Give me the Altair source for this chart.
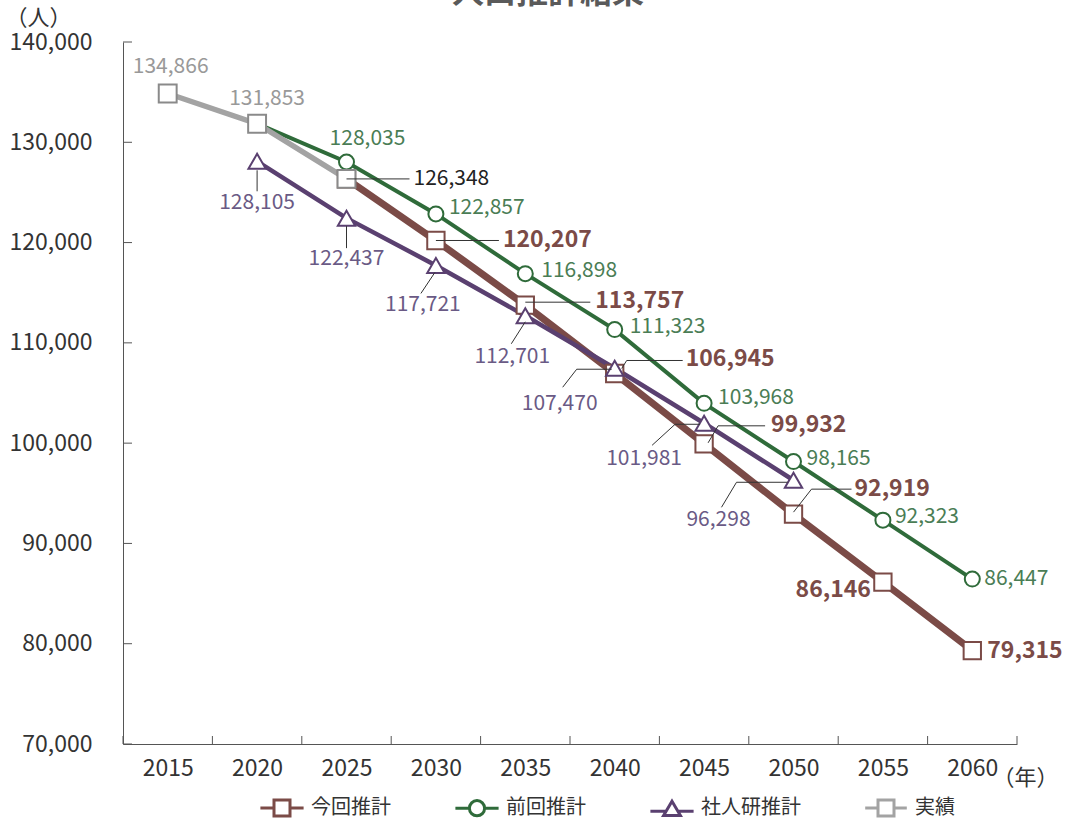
import altair as alt
import pandas as pd

# ---------------- data ----------------
years = [2015, 2020, 2025, 2030, 2035, 2040, 2045, 2050, 2055, 2060]
series_names = ["今回推計", "前回推計", "社人研推計", "実績"]

actual_years = [2015, 2020, 2025]
actual_vals = [134866, 131853, 126348]

current_years = [2025, 2030, 2035, 2040, 2045, 2050, 2055, 2060]
current_vals = [126348, 120207, 113757, 106945, 99932, 92919, 86146, 79315]

previous_years = [2020, 2025, 2030, 2035, 2040, 2045, 2050, 2055, 2060]
previous_vals = [131853, 128035, 122857, 116898, 111323, 103968, 98165, 92323, 86447]

ipss_years = [2020, 2025, 2030, 2035, 2040, 2045, 2050]
ipss_vals = [128105, 122437, 117721, 112701, 107470, 101981, 96298]

y_ticks = [70000, 80000, 90000, 100000, 110000, 120000, 130000, 140000]
title_text = "人口推計結果"

series_data = {
    "今回推計": (current_years, current_vals),
    "前回推計": (previous_years, previous_vals),
    "社人研推計": (ipss_years, ipss_vals),
    "実績": (actual_years, actual_vals),
}

# ---------------- styling ----------------
W, H = 894, 702
X_MIN, X_MAX = years[0] - 2.5, years[-1] + 2.5
Y_MIN, Y_MAX = y_ticks[0], y_ticks[-1]
PX_X = (X_MAX - X_MIN) / W     # years per pixel
PX_Y = (Y_MAX - Y_MIN) / H     # persons per pixel

colors = {"今回推計": "#7b4b47", "前回推計": "#2f6b3a", "社人研推計": "#5a4070", "実績": "#a3a3a3"}
marker_stroke = {"今回推計": "#7b4b47", "前回推計": "#2f6b3a", "社人研推計": "#5a4070", "実績": "#8a8a8a"}
line_width = {"今回推計": 7, "前回推計": 4, "社人研推計": 4.5, "実績": 5.5}
marker_shape = {"今回推計": "square", "前回推計": "circle", "社人研推計": "triangle-up", "実績": "square"}
marker_size = {"今回推計": 300, "前回推計": 225, "社人研推計": 300, "実績": 320}

label_styles = {
    "gray": ("#999999", 21, "normal"),
    "black": ("#222222", 21, "normal"),
    "green": ("#4a7d55", 21, "normal"),
    "purple": ("#6a5a85", 21, "normal"),
    "brown": ("#7b4b47", 23, "bold"),
}

# label placements: series, year, dx, dy (pixels from point), align, style
label_place = [
    ("実績", 2015, 3, -26, "center", "gray"),
    ("実績", 2020, 10, -25, "center", "gray"),
    ("実績", 2025, 67, 0, "left", "black"),
    ("前回推計", 2025, 21, -23, "center", "green"),
    ("前回推計", 2030, 13, -6, "left", "green"),
    ("前回推計", 2035, 16, -3, "left", "green"),
    ("前回推計", 2040, 15, -3, "left", "green"),
    ("前回推計", 2045, 14, -5, "left", "green"),
    ("前回推計", 2050, 13, -3, "left", "green"),
    ("前回推計", 2055, 12, -3, "left", "green"),
    ("前回推計", 2060, 12, 0, "left", "green"),
    ("今回推計", 2030, 67, 0, "left", "brown"),
    ("今回推計", 2035, 70, -4, "left", "brown"),
    ("今回推計", 2040, 71, -14, "left", "brown"),
    ("今回推計", 2045, 67, -19, "left", "brown"),
    ("今回推計", 2050, 61, -25, "left", "brown"),
    ("今回推計", 2055, -12, 8, "right", "brown"),
    ("今回推計", 2060, 15, 0, "left", "brown"),
    ("社人研推計", 2020, 0, 42, "center", "purple"),
    ("社人研推計", 2025, 0, 41, "center", "purple"),
    ("社人研推計", 2030, -13, 40, "center", "purple"),
    ("社人研推計", 2035, -13, 41, "center", "purple"),
    ("社人研推計", 2040, -55, 36, "center", "purple"),
    ("社人研推計", 2045, -60, 36, "center", "purple"),
    ("社人研推計", 2050, -75, 40, "center", "purple"),
]

# leader lines: series, year, vertices as pixel offsets from the point
leaders = [
    ("実績", 2025, [(0, 0), (63, 0)]),
    ("今回推計", 2030, [(0, 0), (63, 0)]),
    ("今回推計", 2035, [(0, -3), (65, -3)]),
    ("今回推計", 2040, [(7, -5), (12, -13), (68, -13)]),
    ("今回推計", 2045, [(4, -1), (14, -18), (61, -18)]),
    ("今回推計", 2050, [(0, -2), (18, -25), (58, -25)]),
    ("社人研推計", 2020, [(0, 9), (0, 30)]),
    ("社人研推計", 2025, [(0, 8), (0, 30)]),
    ("社人研推計", 2030, [(-1, 7), (-15, 28)]),
    ("社人研推計", 2035, [(0, 6), (-14, 28)]),
    ("社人研推計", 2040, [(-3, 1), (-38, 1), (-52, 19)]),
    ("社人研推計", 2045, [(-4, 1), (-29, 1), (-52, 22)]),
    ("社人研推計", 2050, [(-6, 2), (-57, 2), (-72, 27)]),
]

legend_paths = [
    "M-2.7,0H-1M1,0H2.7M-1,-1H1V1H-1Z",
    "M-2.7,0H-0.95M0.95,0H2.7M-0.95,0A0.95,0.95 0 1,1 0.95,0A0.95,0.95 0 1,1 -0.95,0Z",
    "M-2.7,0.35H-0.73M0.73,0.35H2.7M0,-0.9L1.05,0.9H-1.05Z",
    "M-2.6,0H-1M1,0H2.6M-1,-1H1V1H-1Z",
]


def value_of(series, year):
    ys, vs = series_data[series]
    return vs[ys.index(year)]


# ---------------- scales / axes ----------------
xs = alt.Scale(domain=[X_MIN, X_MAX], nice=False, zero=False)
ys_ = alt.Scale(domain=[Y_MIN, Y_MAX], nice=False, zero=False)

x_axis = alt.Axis(values=years, format="d", labelFontSize=23, labelColor="#333333",
                  labelPadding=13, ticks=False, tickSize=0, grid=False, domainColor="#555555",
                  labelFlush=False, labelOverlap=False,
                  title="（年）", titleAngle=0, titleX=902, titleY=33, titleAlign="center",
                  titleBaseline="middle", titleFontSize=22, titleFontWeight="normal",
                  titleColor="#333333")
y_axis = alt.Axis(values=y_ticks, format=",d", labelFontSize=23, labelColor="#333333",
                  labelPadding=31, ticks=False, tickSize=0, grid=False, domainColor="#555555",
                  labelOverlap=False,
                  title="（人）", titleAngle=0, titleX=-85, titleY=-25, titleAlign="center",
                  titleBaseline="middle", titleFontSize=22, titleFontWeight="normal",
                  titleColor="#333333")

X = alt.X("year:Q", scale=xs, axis=x_axis)
Y = alt.Y("value:Q", scale=ys_, axis=y_axis)
XL = alt.X("lx:Q", scale=xs, axis=x_axis)
YL = alt.Y("ly:Q", scale=ys_, axis=y_axis)

layers = []

# tick marks (inward)
bounds = [y - 2.5 for y in years] + [years[-1] + 2.5]
layers.append(alt.Chart(pd.DataFrame({"year": bounds})).mark_rule(color="#555555", strokeWidth=1).encode(
    x=X, y=alt.value(H - 8), y2=alt.value(H)))
layers.append(alt.Chart(pd.DataFrame({"value": y_ticks})).mark_rule(color="#555555", strokeWidth=1).encode(
    y=Y, x=alt.value(0), x2=alt.value(9)))

# lines
for s in ["今回推計", "前回推計", "社人研推計", "実績"]:
    yy, vv = series_data[s]
    df = pd.DataFrame({"year": yy, "value": vv})
    layers.append(alt.Chart(df).mark_line(color=colors[s], strokeWidth=line_width[s]).encode(x=X, y=Y))

# markers
for s in ["今回推計", "前回推計", "社人研推計", "実績"]:
    yy, vv = series_data[s]
    df = pd.DataFrame({"year": yy, "value": vv})
    layers.append(alt.Chart(df).mark_point(shape=marker_shape[s], size=marker_size[s], filled=True,
                                           fill="white", stroke=marker_stroke[s], strokeWidth=2,
                                           opacity=1).encode(x=X, y=Y))

# leader lines (pixel offsets converted into data units of the linear scales)
rows = []
for i, (s, yr, verts) in enumerate(leaders):
    v = value_of(s, yr)
    for k, (dx, dy) in enumerate(verts):
        rows.append({"lid": i, "k": k, "lx": yr + dx * PX_X, "ly": v - dy * PX_Y})
ldf = pd.DataFrame(rows)
layers.append(alt.Chart(ldf).mark_line(color="#333333", strokeWidth=1).encode(
    x=XL, y=YL, detail="lid:N", order="k:Q"))

# value labels
lrows = []
for s, yr, dx, dy, align, style in label_place:
    v = value_of(s, yr)
    lrows.append({"lx": yr + dx * PX_X, "ly": v - dy * PX_Y, "align": align, "style": style,
                  "label": f"{v:,}"})
labdf = pd.DataFrame(lrows)
for (style, align), sub in labdf.groupby(["style", "align"]):
    c, fs, fw = label_styles[style]
    layers.append(alt.Chart(sub).mark_text(align=align, baseline="middle", fontSize=fs, fontWeight=fw,
                                           color=c).encode(x=XL, y=YL, text="label:N"))

# title (cut off at the top as in the source)
layers.append(alt.Chart(pd.DataFrame({"t": [title_text]})).mark_text(
    align="center", baseline="alphabetic", fontSize=32, fontWeight="bold", color="#5a5a5a").encode(
    text="t:N", x=alt.value(425), y=alt.value(-39)))

# legend carrier
leg = alt.Legend(title=None, orient="none", legendX=149, legendY=756, direction="horizontal",
                 symbolSize=256, symbolStrokeWidth=3, symbolFillColor="white", labelFontSize=20,
                 labelColor="#333333", labelOffset=19, columnPadding=58, padding=0,
                 symbolOpacity=1)
legdf = pd.DataFrame({"series": series_names})
layers.append(alt.Chart(legdf).mark_point(size=0, filled=False, strokeWidth=3).encode(
    x=alt.value(0), y=alt.value(5000),
    color=alt.Color("series:N", scale=alt.Scale(domain=series_names,
                                                range=[colors[s] for s in series_names]),
                    sort=series_names, legend=leg),
    shape=alt.Shape("series:N", scale=alt.Scale(domain=series_names, range=legend_paths),
                    sort=series_names, legend=leg),
))

chart = alt.layer(*layers).properties(
    width=W, height=H,
    autosize=alt.AutoSizeParams(type="none"),
    padding={"left": 123, "top": 42, "right": 49, "bottom": 81},
).configure(font="Noto Sans CJK JP").configure_view(stroke=None)

chart.save("out.html", embed_options={"renderer": "svg", "actions": False})
